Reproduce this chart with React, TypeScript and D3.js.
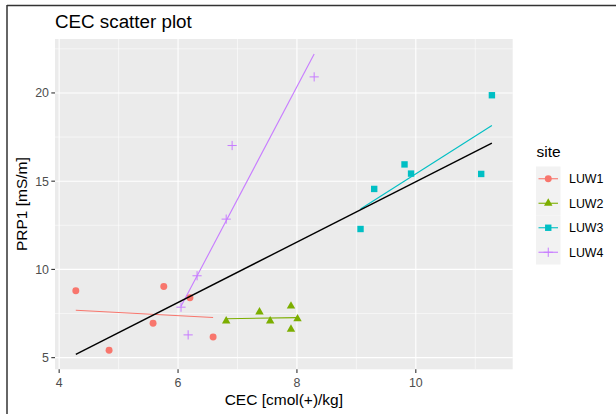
import React from "react";
import * as d3 from "d3";

// values
const sites = ["LUW1", "LUW2", "LUW3", "LUW4"];
const siteColors = ["#F8766D", "#7CAE00", "#00BFC4", "#C77CFF"];
const cecLUW1 = [4.28, 4.84, 5.76, 5.58, 6.2, 6.59];
const prpLUW1 = [8.79, 5.42, 9.03, 6.95, 8.4, 6.17];
const cecLUW2 = [6.81, 7.37, 7.55, 7.9, 7.9, 8.01];
const prpLUW2 = [7.08, 7.59, 7.08, 7.92, 6.61, 7.2];
const cecLUW3 = [9.07, 9.3, 9.81, 9.92, 11.1, 11.28];
const prpLUW3 = [12.29, 14.56, 15.95, 15.43, 15.41, 19.87];
const cecLUW4 = [6.05, 6.17, 6.32, 6.81, 6.91, 8.29];
const prpLUW4 = [7.86, 6.29, 9.64, 12.85, 17.02, 20.91];
const xTicks = [4, 6, 8, 10];
const yTicks = [5, 10, 15, 20];

const cecBySite = [cecLUW1, cecLUW2, cecLUW3, cecLUW4];
const prpBySite = [prpLUW1, prpLUW2, prpLUW3, prpLUW4];

type Pt = { x: number; y: number; site: string };

const points: Pt[] = [];
sites.forEach((s, i) => {
  cecBySite[i].forEach((x, j) => points.push({ x, y: prpBySite[i][j], site: s }));
});

// simple least squares fit, like geom_smooth(method = "lm")
function fit(pts: Pt[]) {
  const mx = d3.mean(pts, (d) => d.x)!;
  const my = d3.mean(pts, (d) => d.y)!;
  const sxy = d3.sum(pts, (d) => (d.x - mx) * (d.y - my));
  const sxx = d3.sum(pts, (d) => (d.x - mx) ** 2);
  const b = sxy / sxx;
  const a = my - b * mx;
  const [x0, x1] = d3.extent(pts, (d) => d.x) as [number, number];
  return [
    { x: x0, y: a + b * x0 },
    { x: x1, y: a + b * x1 },
  ];
}

const groupFits = sites.map((s) => fit(points.filter((p) => p.site === s)));
const allFit = fit(points);

const W = 616;
const H = 414;
const margin = { top: 39, right: 103.3, bottom: 44.7, left: 55 };
const font = "'Liberation Sans', Arial, sans-serif";

function expand([a, b]: number[]) {
  const p = (b - a) * 0.05;
  return [a - p, b + p];
}

function shapePath(i: number) {
  if (i === 0) return d3.symbol(d3.symbolCircle, 38)()!;
  if (i === 1) return d3.symbol(d3.symbolTriangle, 31)()!;
  if (i === 2) return d3.symbol(d3.symbolSquare, 41)()!;
  return "M-4.6,0H4.6M0,-4.6V4.6";
}

function Marker({ i, x, y }: { i: number; x: number; y: number }) {
  const c = siteColors[i];
  if (i === 3)
    return (
      <path d={shapePath(i)} transform={`translate(${x},${y})`} fill="none" stroke={c} strokeWidth={1} />
    );
  return <path d={shapePath(i)} transform={`translate(${x},${y})`} fill={c} />;
}

export default function App() {
  const xs = d3.extent(points, (d) => d.x) as number[];
  const allY = points.map((d) => d.y).concat(
    groupFits.flat().map((d) => d.y),
    allFit.map((d) => d.y)
  );
  const ys = d3.extent(allY) as number[];

  const x = d3.scaleLinear().domain(expand(xs)).range([margin.left, W - margin.right]);
  const y = d3.scaleLinear().domain(expand(ys)).range([H - margin.bottom, margin.top]);
  const [px0, px1] = x.range();
  const [py1, py0] = y.range();

  const xMinor = xTicks.map((t) => t + 1).concat([xTicks[0] - 1]).filter((t) => t > x.domain()[0] && t < x.domain()[1]);
  const yMinor = yTicks.map((t) => t + 2.5).concat([yTicks[0] - 2.5]).filter((t) => t > y.domain()[0] && t < y.domain()[1]);

  const line = d3
    .line<{ x: number; y: number }>()
    .x((d) => x(d.x))
    .y((d) => y(d.y));

  const legX = 536;
  const legY = 166.5;
  const keyH = 24.5;
  const keyW = 24.5;

  return (
    <svg width={W} height={H} style={{ position: "absolute", left: 0, top: 0, background: "#fff" }} fontFamily={font}>
      {/* outer frame as seen in the screenshot */}
      <line x1={7} y1={5.5} x2={W} y2={5.5} stroke="#333" strokeWidth={1.5} />
      <line x1={7} y1={5} x2={7} y2={H} stroke="#333" strokeWidth={1.5} />

      <text x={55} y={28} fontSize={18.8} fill="#000">
        CEC scatter plot
      </text>

      {/* panel */}
      <rect x={px0} y={py0} width={px1 - px0} height={py1 - py0} fill="#EBEBEB" />
      {xMinor.map((t) => (
        <line key={"xm" + t} x1={x(t)} x2={x(t)} y1={py0} y2={py1} stroke="#fff" strokeWidth={0.55} />
      ))}
      {yMinor.map((t) => (
        <line key={"ym" + t} x1={px0} x2={px1} y1={y(t)} y2={y(t)} stroke="#fff" strokeWidth={0.55} />
      ))}
      {xTicks.map((t) => (
        <line key={"xg" + t} x1={x(t)} x2={x(t)} y1={py0} y2={py1} stroke="#fff" strokeWidth={1.1} />
      ))}
      {yTicks.map((t) => (
        <line key={"yg" + t} x1={px0} x2={px1} y1={y(t)} y2={y(t)} stroke="#fff" strokeWidth={1.1} />
      ))}

      {/* points */}
      {points.map((p, k) => (
        <Marker key={k} i={sites.indexOf(p.site)} x={x(p.x)} y={y(p.y)} />
      ))}

      {/* regression lines */}
      {groupFits.map((f, i) => (
        <path key={"fit" + i} d={line(f)!} fill="none" stroke={siteColors[i]} strokeWidth={1.1} />
      ))}
      <path d={line(allFit)!} fill="none" stroke="#000" strokeWidth={1.4} />

      {/* axes */}
      {xTicks.map((t) => (
        <g key={"xt" + t}>
          <line x1={x(t)} x2={x(t)} y1={py1} y2={py1 + 3.7} stroke="#333" strokeWidth={1.1} />
          <text x={x(t)} y={py1 + 17.5} textAnchor="middle" fontSize={12.4} fill="#4D4D4D">
            {t}
          </text>
        </g>
      ))}
      {yTicks.map((t) => (
        <g key={"yt" + t}>
          <line x1={px0 - 3.7} x2={px0} y1={y(t)} y2={y(t)} stroke="#333" strokeWidth={1.1} />
          <text x={px0 - 6} y={y(t)} dy="0.35em" textAnchor="end" fontSize={12.4} fill="#4D4D4D">
            {t}
          </text>
        </g>
      ))}
      <text x={(px0 + px1) / 2} y={405} textAnchor="middle" fontSize={15.5} fill="#000">
        CEC [cmol(+)/kg]
      </text>
      <text
        transform={`translate(26.5,${(py0 + py1) / 2}) rotate(-90)`}
        textAnchor="middle"
        fontSize={15.5}
        fill="#000"
      >
        PRP1 [mS/m]
      </text>

      {/* legend */}
      <text x={legX + 0.5} y={157} fontSize={15.5} fill="#000">
        site
      </text>
      {sites.map((s, i) => {
        const cy = legY + keyH * i + keyH / 2;
        return (
          <g key={"leg" + s}>
            <rect x={legX} y={legY + keyH * i} width={keyW} height={keyH} fill="#F2F2F2" />
            <line x1={legX + 2.5} x2={legX + keyW - 2.5} y1={cy} y2={cy} stroke={siteColors[i]} strokeWidth={1.1} />
            <Marker i={i} x={legX + keyW / 2} y={cy} />
            <text x={legX + keyW + 8.5} y={cy} dy="0.35em" fontSize={12.4} fill="#000">
              {s}
            </text>
          </g>
        );
      })}
    </svg>
  );
}
